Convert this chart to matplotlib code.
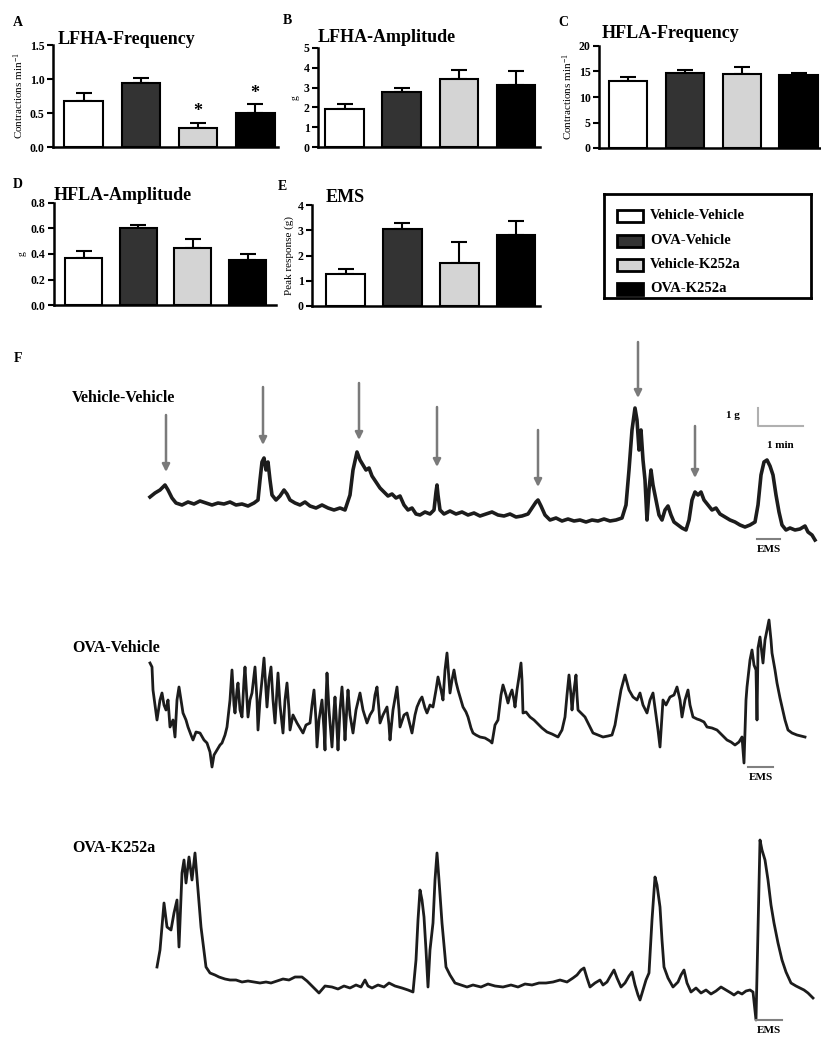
import matplotlib
matplotlib.use("Agg")
import matplotlib.pyplot as plt
import matplotlib.patches as mpatches
import numpy as np

plt.rcParams['font.family'] = ['Liberation Serif', 'DejaVu Serif']
plt.rcParams['font.weight'] = 'bold'
plt.rcParams['mathtext.default'] = 'regular'

W, H = 821, 1043

# --- bar panel data (mean, SEM) ---
groups = ['Vehicle-Vehicle', 'OVA-Vehicle', 'Vehicle-K252a', 'OVA-K252a']
bar_colors = ['white', '#333333', '#d4d4d4', 'black']

lfha_freq = [0.67, 0.94, 0.28, 0.50]
lfha_freq_sem = [0.13, 0.07, 0.08, 0.13]
lfha_freq_sig = [2, 3]

lfha_amp = [1.90, 2.80, 3.45, 3.15]
lfha_amp_sem = [0.25, 0.20, 0.45, 0.70]

hfla_freq = [13.2, 14.8, 14.5, 14.3]
hfla_freq_sem = [0.8, 0.5, 1.4, 0.5]

hfla_amp = [0.37, 0.60, 0.45, 0.35]
hfla_amp_sem = [0.05, 0.03, 0.07, 0.05]

ems_peak = [1.25, 3.05, 1.70, 2.80]
ems_peak_sem = [0.22, 0.22, 0.85, 0.55]

# --- recordings: sample index (45 samples = 1 min), tension (18 units = 1 g) ---
vv_t = [10, 15, 20, 25, 28, 32, 36, 42, 48, 54,
        60, 66, 72, 78, 84, 90, 96, 102, 108, 114,
        118, 120, 122, 124, 126, 128, 130, 132, 136, 140,
        144, 147, 150, 155, 160, 165, 170, 176, 182, 188,
        194, 200, 205, 210, 213, 217, 220, 223, 226, 229,
        232, 236, 240, 244, 248, 252, 256, 260, 264, 268,
        272, 276, 280, 285, 290, 294, 296, 297, 298, 300,
        304, 310, 316, 322, 328, 334, 340, 346, 352, 358,
        364, 370, 376, 382, 388, 392, 396, 398, 401, 405,
        410, 416, 422, 428, 434, 440, 446, 452, 458, 464,
        470, 476, 482, 486, 489, 492, 495, 497, 499, 501,
        503, 505, 507, 509, 511, 513, 516, 519, 522, 525,
        528, 531, 534, 538, 542, 546, 549, 552, 555, 558,
        561, 564, 568, 572, 576, 580, 585, 590, 595, 600,
        605, 610, 615, 618, 621, 624, 627, 630, 633, 636,
        639, 642, 646, 650, 655, 660, 665, 668, 672, 675]
vv_v = [63, 67, 70, 75, 70, 62, 57, 55, 58, 56,
        59, 57, 55, 57, 56, 58, 55, 56, 54, 57,
        60, 80, 98, 102, 90, 98, 80, 65, 60, 64,
        70, 66, 60, 57, 55, 58, 54, 52, 55, 52,
        50, 52, 50, 65, 90, 108, 100, 95, 90, 92,
        84, 78, 72, 68, 64, 66, 62, 64, 55, 50,
        52, 46, 45, 48, 46, 50, 68, 75, 65, 50,
        46, 49, 46, 48, 45, 47, 44, 46, 48, 45,
        44, 46, 43, 44, 46, 52, 58, 60, 54, 45,
        40, 42, 39, 41, 39, 40, 38, 40, 39, 41,
        39, 40, 42, 55, 90, 130, 152, 140, 110, 130,
        100, 80, 40, 70, 90, 75, 60, 45, 40, 50,
        54, 45, 38, 35, 32, 30, 40, 60, 68, 65,
        68, 60, 55, 50, 52, 46, 43, 40, 38, 35,
        33, 35, 38, 55, 85, 98, 100, 94, 85, 65,
        48, 35, 30, 32, 30, 31, 34, 28, 25, 20]
vv_arrow_t = [26, 123, 219, 297, 398, 498, 555]
vv_arrow_top = [145, 173, 177, 153, 130, 218, 134]
vv_arrow_tip = [88, 115, 120, 93, 73, 162, 82]

ov_t = [10, 12, 13, 17, 20, 22, 24, 26, 28, 30,
        33, 35, 37, 39, 41, 43, 46, 48, 51, 53,
        56, 60, 64, 67, 70, 72, 74, 77, 80, 82,
        85, 87, 90, 92, 94, 95, 97, 98, 100, 102,
        104, 105, 107, 108, 110, 112, 114, 115, 117, 118,
        120, 122, 124, 126, 127, 129, 131, 133, 135, 137,
        138, 140, 143, 145, 147, 149, 150, 153, 157, 160,
        163, 166, 170, 172, 174, 176, 177, 179, 182, 184,
        185, 186, 187, 189, 192, 194, 195, 197, 198, 200,
        202, 204, 205, 207, 208, 210, 213, 216, 220, 223,
        227, 230, 233, 235, 237, 239, 240, 243, 247, 249,
        250, 253, 257, 259, 260, 264, 267, 270, 272, 275,
        277, 280, 282, 285, 287, 290, 293, 296, 298, 301,
        303, 305, 307, 309, 310, 312, 314, 316, 318, 321,
        323, 326, 328, 331, 333, 336, 340, 345, 350, 352,
        355, 358, 361, 363, 366, 368, 370, 372, 374, 375,
        377, 379, 381, 382, 383, 386, 390, 394, 397, 402,
        407, 412, 418, 422, 425, 427, 429, 431, 432, 434,
        436, 437, 438, 442, 445, 449, 453, 458, 463, 468,
        472, 475, 477, 481, 485, 489, 493, 497, 500, 503,
        507, 510, 513, 516, 518, 520, 522, 523, 526, 530,
        534, 537, 540, 542, 545, 548, 550, 553, 557, 560,
        564, 567, 572, 577, 582, 587, 591, 595, 599, 602,
        604, 606, 607, 610, 612, 614, 616, 617, 618, 620,
        622, 623, 625, 627, 629, 631, 632, 635, 637, 640,
        642, 645, 648, 652, 657, 661, 665]
ov_v = [127, 123, 100, 70, 90, 97, 85, 80, 90, 63,
        70, 53, 90, 103, 90, 77, 70, 63, 55, 50,
        58, 57, 50, 47, 38, 23, 35, 40, 45, 47,
        55, 63, 90, 120, 85, 77, 100, 107, 80, 73,
        110, 123, 90, 73, 90, 97, 115, 123, 90, 60,
        90, 110, 132, 100, 83, 110, 123, 90, 67, 100,
        117, 85, 57, 90, 107, 80, 60, 75, 67, 62,
        57, 65, 67, 85, 100, 70, 43, 70, 90, 60,
        40, 90, 117, 80, 43, 80, 93, 60, 40, 80,
        103, 70, 50, 85, 100, 75, 57, 80, 97, 80,
        67, 75, 80, 95, 103, 80, 67, 75, 83, 65,
        50, 80, 103, 80, 63, 75, 77, 65, 57, 75,
        83, 90, 93, 82, 77, 85, 83, 100, 113, 100,
        90, 120, 137, 110, 97, 110, 120, 108, 100, 90,
        83, 78, 73, 62, 57, 55, 53, 52, 49, 47,
        65, 70, 95, 105, 95, 87, 95, 100, 90, 83,
        100, 113, 127, 110, 77, 78, 73, 70, 67, 62,
        58, 56, 53, 60, 73, 95, 115, 95, 80, 100,
        115, 95, 80, 76, 73, 65, 57, 55, 53, 54,
        55, 65, 77, 100, 115, 100, 93, 90, 97, 85,
        77, 90, 97, 75, 60, 43, 75, 90, 85, 93,
        95, 103, 90, 73, 90, 100, 85, 73, 71, 70,
        68, 63, 62, 60, 55, 50, 48, 45, 48, 53,
        27, 90, 103, 130, 140, 125, 120, 70, 142, 153,
        135, 127, 150, 160, 170, 150, 137, 120, 107, 92,
        83, 70, 60, 57, 55, 54, 53]

ok_t = [17, 20, 24, 27, 31, 34, 37, 39, 42, 44,
        46, 49, 52, 55, 58, 61, 66, 70, 75, 79,
        85, 90, 96, 102, 108, 114, 120, 126, 131, 137,
        143, 149, 155, 162, 167, 173, 179, 185, 192, 198,
        204, 210, 216, 221, 225, 228, 232, 238, 244, 249,
        255, 262, 268, 273, 276, 278, 280, 282, 284, 286,
        288, 290, 293, 295, 297, 299, 302, 304, 306, 310,
        315, 321, 327, 333, 341, 348, 355, 363, 371, 378,
        385, 392, 399, 406, 413, 420, 427, 433, 437, 441,
        444, 447, 450, 455, 460, 463, 467, 471, 474, 477,
        481, 485, 489, 492, 495, 498, 500, 503, 506, 509,
        512, 515, 517, 520, 522, 524, 528, 533, 538, 541,
        544, 547, 551, 556, 561, 566, 571, 576, 581, 586,
        591, 594, 598, 602, 606, 610, 613, 616, 618, 620,
        622, 625, 628, 631, 634, 638, 642, 646, 651, 656,
        660, 664, 668, 673]
ok_v = [63, 80, 127, 103, 100, 117, 130, 83, 157, 170,
        147, 173, 150, 177, 140, 103, 63, 57, 55, 53,
        51, 50, 50, 48, 49, 48, 47, 48, 47, 49,
        51, 50, 53, 53, 49, 43, 37, 44, 43, 41,
        44, 42, 45, 43, 50, 44, 42, 45, 43, 47,
        44, 42, 40, 38, 70, 110, 140, 130, 113, 80,
        43, 80, 107, 150, 177, 150, 107, 85, 63, 55,
        47, 45, 43, 45, 43, 46, 44, 43, 45, 43,
        46, 45, 47, 47, 48, 50, 48, 52, 55, 60,
        62, 52, 43, 47, 50, 45, 48, 55, 60, 52,
        43, 47, 54, 58, 45, 35, 30, 40, 50, 57,
        110, 153, 145, 123, 90, 63, 52, 43, 48, 55,
        60, 47, 38, 42, 37, 40, 36, 39, 43, 40,
        37, 35, 38, 36, 39, 40, 38, 10, 100, 190,
        180, 170, 150, 125, 107, 87, 70, 58, 47, 44,
        42, 40, 37, 32]

# EMS stimulus window (samples) and marker level for each recording
ems_window = [(617, 640), (608, 633), (616, 642)]
ems_level = [21, 23, 10]


def px_axes(fig, x0, y0, x1, y1):
    return fig.add_axes([x0 / W, 1 - y1 / H, (x1 - x0) / W, (y1 - y0) / H])


def bar_panel(ax, means, sems, ticks, fmt, xlim, title, title_xy, ylabel,
              ylabel_size=8, sig=None):
    x = np.arange(len(means))
    ax.bar(x, means, width=0.68, color=bar_colors, edgecolor='black',
           linewidth=1.5, zorder=2)
    ax.errorbar(x, means, yerr=[np.zeros(len(sems)), sems], fmt='none',
                ecolor='black', elinewidth=1.5, capsize=6, capthick=1.5,
                zorder=1)
    if sig:
        for i in sig:
            ax.text(i, means[i] + sems[i] + 0.02 * ticks[-1], '*',
                    ha='center', va='bottom', fontsize=13)
    ax.set_xlim(*xlim)
    ax.set_ylim(0, ticks[-1])
    ax.set_yticks(ticks)
    ax.set_yticklabels([fmt.format(t) for t in ticks], fontsize=8.5)
    ax.set_xticks([])
    for s in ['top', 'right']:
        ax.spines[s].set_visible(False)
    for s in ['left', 'bottom']:
        ax.spines[s].set_linewidth(1.8)
    ax.tick_params(axis='y', width=1.5, length=4, pad=2)
    ax.set_ylabel(ylabel, fontsize=ylabel_size, labelpad=3)
    ax.text(title_xy[0], title_xy[1], title, transform=ax.transAxes,
            fontsize=13, ha='left', va='baseline', clip_on=False)


fig = plt.figure(figsize=(W / 100, H / 100), dpi=100)
fig.patch.set_facecolor('white')

axA = px_axes(fig, 53, 45, 278, 147)
bar_panel(axA, lfha_freq, lfha_freq_sem, [0, 0.5, 1.0, 1.5], '{:.1f}',
          (-0.54, 3.40), 'LFHA-Frequency', (0.02, 1.01),
          'Contractions min$^{-1}$', sig=lfha_freq_sig)

axB = px_axes(fig, 318, 48, 540, 147)
bar_panel(axB, lfha_amp, lfha_amp_sem, [0, 1, 2, 3, 4, 5], '{:d}',
          (-0.47, 3.42), 'LFHA-Amplitude', (0.0, 1.06), 'g', ylabel_size=7)

axC = px_axes(fig, 599, 46, 821, 148)
bar_panel(axC, hfla_freq, hfla_freq_sem, [0, 5, 10, 15, 20], '{:d}',
          (-0.51, 3.39), 'HFLA-Frequency', (0.014, 1.08),
          'Contractions min$^{-1}$')

axD = px_axes(fig, 54, 203, 276, 305)
bar_panel(axD, hfla_amp, hfla_amp_sem, [0, 0.2, 0.4, 0.6, 0.8], '{:.1f}',
          (-0.54, 3.52), 'HFLA-Amplitude', (0.0, 1.03), 'g', ylabel_size=7)

axE = px_axes(fig, 312, 205, 540, 306)
bar_panel(axE, ems_peak, ems_peak_sem, [0, 1, 2, 3, 4], '{:d}',
          (-0.59, 3.42), 'EMS', (0.06, 1.03), 'Peak response (g)')

for letter, (px, py) in zip('ABCDEF', [(18, 22), (287, 21), (563, 22),
                                        (18, 185), (282, 187), (18, 358)]):
    fig.text(px / W, 1 - py / H, letter, fontsize=10, ha='center',
             va='center')

# legend box drawn by hand so its frame matches the original width
axL = px_axes(fig, 604, 194, 811, 298)
axL.set_xlim(0, 1)
axL.set_ylim(0, 1)
axL.set_xticks([])
axL.set_yticks([])
for s in axL.spines.values():
    s.set_linewidth(2)
row_y = [0.79, 0.55, 0.32, 0.09]
for c, name, y in zip(bar_colors, groups, row_y):
    axL.add_patch(mpatches.Rectangle((0.065, y - 0.058), 0.125, 0.116,
                                     facecolor=c, edgecolor='black',
                                     linewidth=2))
    axL.text(0.222, y, name, fontsize=10.5, ha='left', va='center')

# recordings
trace_boxes = [(140, 330, 821, 560), (140, 600, 821, 790),
               (140, 820, 821, 1030)]
trace_names = ['Vehicle-Vehicle', 'OVA-Vehicle', 'OVA-K252a']
trace_label_y = [398, 648, 848]
traces = [(vv_t, vv_v), (ov_t, ov_v), (ok_t, ok_v)]
trace_lw = [2.6, 2.0, 2.0]

for k, (box, (t, v)) in enumerate(zip(trace_boxes, traces)):
    ax = px_axes(fig, *box)
    ax.set_xlim(0, box[2] - box[0])
    ax.set_ylim(0, box[3] - box[1])
    ax.axis('off')
    ax.plot(t, v, color='#1c1c1c', lw=trace_lw[k], solid_joinstyle='round')
    e0, e1 = ems_window[k]
    ax.plot([e0, e1], [ems_level[k], ems_level[k]], color='#808080', lw=1.5)
    ax.text((e0 + e1) / 2, ems_level[k] - 6, 'EMS', ha='center', va='top',
            fontsize=8, clip_on=False)
    fig.text(72 / W, 1 - trace_label_y[k] / H, trace_names[k], fontsize=11.5,
             ha='left', va='center')
    if k == 0:
        for at, top, tip in zip(vv_arrow_t, vv_arrow_top, vv_arrow_tip):
            ax.annotate('', xy=(at, tip), xytext=(at, top),
                        arrowprops=dict(arrowstyle='-|>', color='#7a7a7a',
                                        lw=1.8, mutation_scale=11,
                                        shrinkA=0, shrinkB=0))
        # scale bar: 1 g = 18 units, 1 min = 45 samples
        ax.plot([618, 618, 663], [152, 134, 134], color='#b0b0b0', lw=1.5)
        ax.text(600, 145, '1 g', ha='right', va='center', fontsize=8)
        ax.text(640, 115, '1 min', ha='center', va='center', fontsize=8)

fig.savefig('out.png', dpi=100, facecolor='white')
